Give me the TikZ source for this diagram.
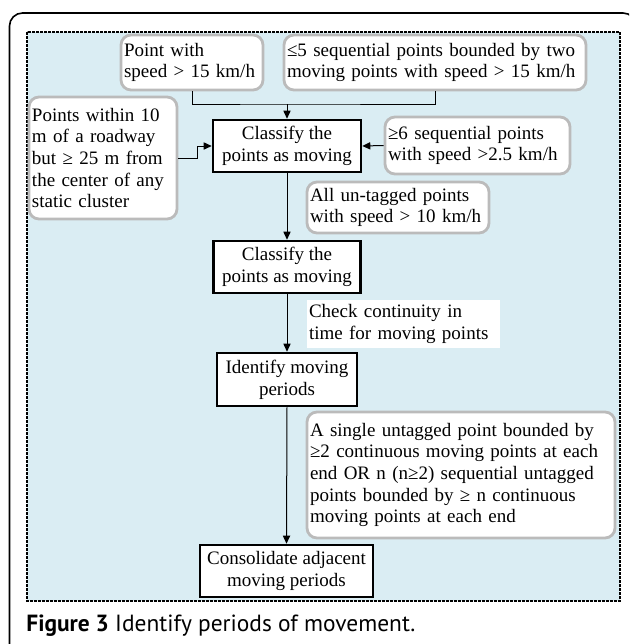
\documentclass[tikz,border=0pt]{standalone}
\usepackage{fontspec}
\setmainfont{Liberation Serif}
\newfontfamily\capfont{PT Sans}
\usetikzlibrary{arrows.meta}
\definecolor{panelblue}{HTML}{DAEDF3}
\definecolor{boxgray}{HTML}{BBBBBB}
\newcommand{\boxfont}{\fontsize{9.5}{10.85}\selectfont}

\begin{document}
\begin{tikzpicture}[x=0.5pt, y=-0.5pt,
    rbox/.style = {draw=boxgray, line width=1.4pt, rounded corners=5pt, fill=white, align=left, inner xsep=1.5pt, inner ysep=1pt, font=\boxfont},
    cbox/.style = {draw, line width=1.3pt, fill=white, align=center, inner sep=1pt, font=\boxfont},
    note/.style = {fill=white, align=left, inner xsep=1pt, inner ysep=1pt, font=\boxfont},
    arr/.style = {-{Triangle[length=4pt, width=3.6pt]}, line width=0.5pt},
    conn/.style = {line width=0.5pt}]

    \useasboundingbox (0,0) rectangle (629,644);
    \clip (0,0) rectangle (629,644);

    % frame and panel
    \draw[line width=0.8pt, rounded corners=6.5pt] (9.5,13) rectangle (636,660);
    \draw[fill=panelblue, line width=1.35pt, dash pattern=on 1.3pt off 0.7pt] (27,32) rectangle (620,601);

    \node[rbox, text width=68pt, minimum height=27.5pt] (A) at (192,62.5) {Point with\\speed > 15 km/h};
    \node[rbox, text width=148pt, minimum height=27.5pt] (B) at (435,62.5) {≤5 sequential points bounded by two\\moving points with speed > 15 km/h};
    \node[cbox, minimum width=74pt, minimum height=26pt] (C) at (287,146) {Classify the\\points as moving};
    \node[rbox, text width=71pt, minimum height=61pt] (D) at (103,158) {Points within 10\\m of a roadway\\but ≥ 25 m from\\the center of any\\static cluster};
    \node[rbox, text width=89.5pt, minimum height=28.5pt] (E) at (477.5,145.5) {≥6 sequential points\\with speed >2.5 km/h};
    \node[rbox, text width=88pt, minimum height=25.5pt] (F) at (398,207.5) {All un-tagged points\\with speed > 10 km/h};
    \node[cbox, minimum width=73.5pt, minimum height=26pt] (G) at (287,267) {Classify the\\points as moving};
    \node[note, text width=94.5pt, minimum height=24pt] (H) at (403.5,324) {Check continuity in\\time for moving points};
    \node[cbox, minimum width=70pt, minimum height=26.5pt] (I) at (287,379.5) {Identify moving\\periods};
    \node[rbox, text width=151pt, minimum height=63pt] (J) at (461,475) {A single untagged point bounded by\\≥2 continuous moving points at each\\end OR n (n≥2) sequential untagged\\points bounded by ≥ n continuous\\moving points at each end};
    \node[cbox, minimum width=86.5pt, minimum height=26pt] (K) at (286.5,571) {Consolidate adjacent\\moving periods};

    \coordinate (join) at (287,104);
    \coordinate (dbend) at (197,158);

    \draw[conn] (A.south) |- (join) -| (B.south);
    \draw[arr] (join) -- (C.north);
    \draw[arr] (D.east) -- (dbend) |- (C.west);
    \draw[arr] (E.west) -- (C.east);
    \draw[arr] (C.south) -- (G.north);
    \draw[arr] (G.south) -- (I.north);
    \draw[arr] (I.south) -- (K.north);

    \node[anchor=base west, inner sep=0pt, font=\capfont\fontsize{11.7}{14}\selectfont] (cap) at (26,631) {\textbf{Figure 3} Identify periods of movement.};
\end{tikzpicture}
\end{document}
